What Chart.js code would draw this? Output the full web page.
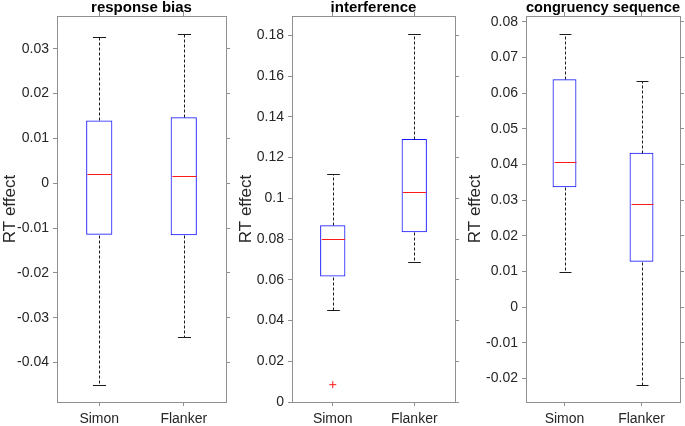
<!DOCTYPE html>
<html>
<head>
<meta charset="utf-8">
<script src="https://cdn.jsdelivr.net/npm/chart.js@4.4.0/dist/chart.umd.min.js"></script>
<style>
  html, body { margin: 0; padding: 0; background: #fff; }
  body { width: 685px; height: 426px; position: relative; overflow: hidden; }
  canvas { position: absolute; top: 0; }
</style>
</head>
<body>
<canvas id="c1" width="236" height="426" style="left:0px"></canvas>
<canvas id="c2" width="229" height="426" style="left:236px"></canvas>
<canvas id="c3" width="220" height="426" style="left:465px"></canvas>
<script>
// 类别和标题
const categories = ['Simon', 'Flanker'];
const titles = ['response bias', 'interference', 'congruency sequence'];

// 每个箱线: [下须, Q1, 中位数, Q3, 上须]
const biasSimon = [-0.0450, -0.0115, 0.0020, 0.0140, 0.0327];
const biasFlanker = [-0.0343, -0.0116, 0.0015, 0.0147, 0.0333];
const interfSimon = [0.0454, 0.0616, 0.0802, 0.0868, 0.1119];
const interfFlanker = [0.0686, 0.0833, 0.1031, 0.1291, 0.1806];
const seqSimon = [0.0098, 0.0336, 0.0408, 0.0639, 0.0766];
const seqFlanker = [-0.0219, 0.0127, 0.0289, 0.0433, 0.0635];

// 离群点 (每个类别一个, 没有就是 null)
const biasOutliers = [null, null];
const interfOutliers = [0.0085, null];
const seqOutliers = [null, null];

const FRAME = '#8f8f8f';
const TEXT = '#262626';
Chart.defaults.font.family = '"Liberation Sans", Arial, sans-serif';
Chart.defaults.color = TEXT;

// 须线, 端线和中位线
function whiskerPlugin(stats) {
  return {
    id: 'whiskers',
    afterDatasetsDraw(chart) {
      const ctx = chart.ctx;
      const yScale = chart.scales.y;
      const px = v => Math.round(yScale.getPixelForValue(v)) + 0.5;
      const bars = chart.getDatasetMeta(0).data;
      ctx.save();
      ctx.lineWidth = 1;
      bars.forEach((bar, i) => {
        const s = stats[i];
        const x = Math.round(bar.x) + 0.5;
        const hw = bar.width / 2;
        ctx.strokeStyle = '#1a1a1a';
        ctx.setLineDash([3, 2]);
        ctx.beginPath();
        ctx.moveTo(x, px(s[3])); ctx.lineTo(x, px(s[4]));
        ctx.moveTo(x, px(s[1])); ctx.lineTo(x, px(s[0]));
        ctx.stroke();
        ctx.setLineDash([]);
        ctx.beginPath();
        ctx.moveTo(x - hw / 2, px(s[4])); ctx.lineTo(x + hw / 2, px(s[4]));
        ctx.moveTo(x - hw / 2, px(s[0])); ctx.lineTo(x + hw / 2, px(s[0]));
        ctx.stroke();
        ctx.strokeStyle = '#ff1a1a';
        ctx.beginPath();
        ctx.moveTo(x - hw + 1, px(s[2])); ctx.lineTo(x + hw - 1, px(s[2]));
        ctx.stroke();
      });
      ctx.restore();
    }
  };
}

function makePanel(id, title, stats, outliers, yMin, yMax, step, leftW, rightW) {
  const tickFmt = v => (+(+v).toFixed(3)) + '';
  const grid = { drawOnChartArea: false, drawTicks: true, tickLength: 4, color: FRAME, tickColor: FRAME, offset: false };
  const border = { display: true, color: FRAME, width: 1 };
  return new Chart(document.getElementById(id), {
    type: 'bar',
    data: {
      labels: categories,
      datasets: [{
        data: stats.map(s => [s[1], s[3]]),
        backgroundColor: 'rgba(0,0,0,0)',
        borderColor: '#1414ff',
        borderWidth: 1,
        borderSkipped: false,
        barPercentage: 0.31,
        categoryPercentage: 1
      }, {
        type: 'line',
        data: outliers,
        showLine: false,
        pointStyle: 'cross',
        pointRadius: 3.5,
        borderColor: '#ff1a1a',
        borderWidth: 1
      }]
    },
    options: {
      responsive: false,
      animation: false,
      layout: { padding: 0 },
      plugins: {
        legend: { display: false },
        tooltip: { enabled: false },
        title: {
          display: true, text: title, fullSize: false, color: '#000',
          font: { size: 15, weight: 'bold', lineHeight: 1 },
          padding: { top: 0, bottom: 1 }
        }
      },
      scales: {
        x: {
          type: 'category', position: 'bottom', offset: true,
          grid: grid, border: border,
          ticks: { font: { size: 14 }, color: TEXT, padding: 5, maxRotation: 0 },
          afterFit: s => { s.height = 24; }
        },
        xTop: {
          type: 'category', position: 'top', offset: true,
          grid: grid, border: border,
          ticks: { display: false },
          afterFit: s => { s.height = 0; }
        },
        y: {
          type: 'linear', position: 'left', min: yMin, max: yMax,
          grid: grid, border: border,
          ticks: { stepSize: step, includeBounds: false, font: { size: 14 }, color: TEXT, padding: 4, callback: tickFmt },
          title: { display: true, text: 'RT effect', font: { size: 17 }, color: TEXT, padding: { top: 0, bottom: 0 } },
          afterFit: s => { s.width = leftW; }
        },
        yRight: {
          type: 'linear', position: 'right', min: yMin, max: yMax,
          grid: grid, border: border,
          ticks: { display: false, stepSize: step, includeBounds: false },
          afterFit: s => { s.width = rightW; }
        }
      }
    },
    plugins: [whiskerPlugin(stats)]
  });
}

makePanel('c1', titles[0], [biasSimon, biasFlanker], biasOutliers, -0.0488, 0.0373, 0.01, 57, 10);
makePanel('c2', titles[1], [interfSimon, interfFlanker], interfOutliers, 0, 0.1895, 0.02, 56, 10);
makePanel('c3', titles[2], [seqSimon, seqFlanker], seqOutliers, -0.0266, 0.0816, 0.01, 61, 5);
</script>
</body>
</html>
